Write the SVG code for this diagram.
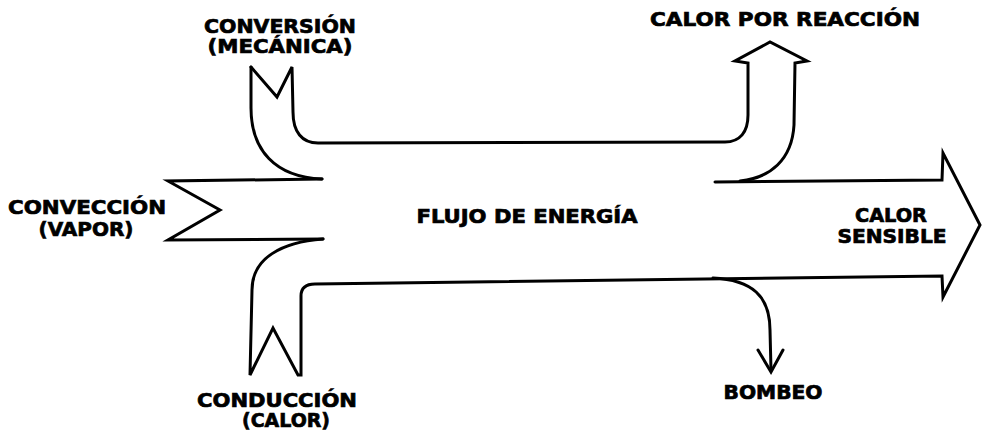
<svg xmlns="http://www.w3.org/2000/svg" width="982" height="436" viewBox="0 0 982 436">
  <style>
    .ln { fill: none; stroke: #000; stroke-width: 3; stroke-linejoin: miter; stroke-linecap: round; }
    .lb { font-family: "DejaVu Sans", "Liberation Sans", Arial, sans-serif; font-weight: bold; font-size: 19px; fill: #000; stroke: #000; stroke-width: 0.7; text-anchor: middle; }
  </style>
  <rect x="0" y="0" width="982" height="436" fill="#fff"/>
  <g id="flows">
    <g id="conversion-to-reaction">
      <path class="ln" d="M 251 67 L 251 108 C 251 150 275 177 322 179"/>
      <path class="ln" d="M 251 67 L 277 97 L 292 67 L 293 112 C 293 132 302 143 318 143 L 725 142 C 740 142 748 132 748 115 L 748 63 L 735 61 L 770 42 L 807 61 L 795 63 L 794 125 C 792 160 770 178 740 181"/>
    </g>
    <g id="convection">
      <path class="ln" d="M 322 179 L 168 181 L 220 210 L 168 240 L 323 239"/>
    </g>
    <g id="conduction-to-sensible">
      <path class="ln" d="M 323 239 C 282 242 252 258 252 290 L 250 375 L 273 328 L 298 375 L 301 375 L 301 296 C 301 288 306 284 315 284 L 942 276 L 943 297 L 980 225 L 943 153 L 942 180 L 715 182"/>
    </g>
    <g id="pumping">
      <path class="ln" d="M 713 278 C 752 280 770 296 770 330 L 771 370"/>
      <path class="ln" d="M 758 350 L 771 372 L 783 350"/>
    </g>
  </g>
  <g id="labels">
    <text class="lb" x="280" y="33" textLength="152" lengthAdjust="spacingAndGlyphs">CONVERSIÓN</text>
    <text class="lb" x="280" y="53" textLength="145" lengthAdjust="spacingAndGlyphs">(MECÁNICA)</text>
    <text class="lb" x="785" y="26" textLength="270" lengthAdjust="spacingAndGlyphs">CALOR POR REACCIÓN</text>
    <text class="lb" x="87" y="214" textLength="158" lengthAdjust="spacingAndGlyphs">CONVECCIÓN</text>
    <text class="lb" x="86" y="236" textLength="95" lengthAdjust="spacingAndGlyphs">(VAPOR)</text>
    <text class="lb" x="527" y="223" textLength="221" lengthAdjust="spacingAndGlyphs">FLUJO DE ENERGÍA</text>
    <text class="lb" x="891" y="222" textLength="72" lengthAdjust="spacingAndGlyphs">CALOR</text>
    <text class="lb" x="892" y="243" textLength="109" lengthAdjust="spacingAndGlyphs">SENSIBLE</text>
    <text class="lb" x="773" y="399" textLength="99" lengthAdjust="spacingAndGlyphs">BOMBEO</text>
    <text class="lb" x="277" y="407" textLength="160" lengthAdjust="spacingAndGlyphs">CONDUCCIÓN</text>
    <text class="lb" x="286" y="427" textLength="88" lengthAdjust="spacingAndGlyphs">(CALOR)</text>
  </g>
</svg>
